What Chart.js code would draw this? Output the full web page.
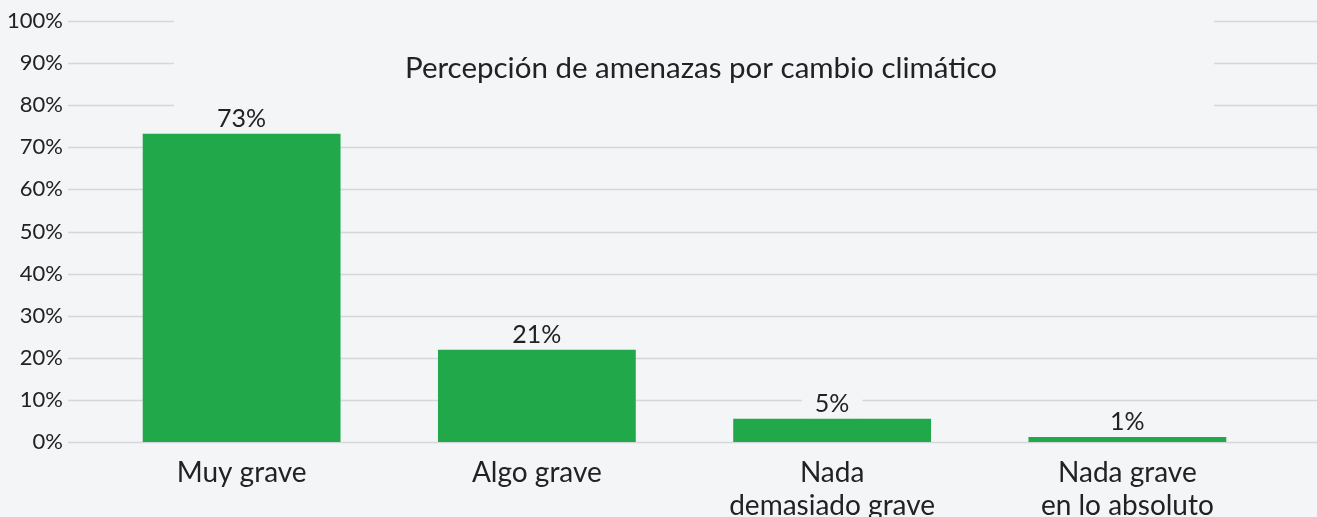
<!DOCTYPE html>
<html lang="es">
<head>
  <meta charset="UTF-8">
  <title>Percepción de amenazas por cambio climático</title>
  <script src="https://cdn.jsdelivr.net/npm/chart.js"></script>
  <style>
    html, body { margin: 0; padding: 0; background: #f3f5f7; }
  </style>
</head>
<body>
<canvas id="chart" width="1317" height="517"></canvas>

<script>
  // datos
  const categories = ['Muy grave', 'Algo grave', ['Nada', 'demasiado grave'], ['Nada grave', 'en lo absoluto']];
  const barValues = [73.2, 21.9, 5.5, 1.2];
  const valueLabels = ['73%', '21%', '5%', '1%'];
  const yTicks = [0, 10, 20, 30, 40, 50, 60, 70, 80, 90, 100];
  const chartTitle = 'Percepción de amenazas por cambio climático';

  const bg = '#f3f5f7';
  const green = '#20a84a';
  const gridColor = '#d6d7da';
  const textColor = '#222222';
  const fontFamily = 'Lato, "Open Sans", sans-serif';

  // líneas de cuadrícula a todo el ancho + caja del título
  const backdrop = {
    id: 'backdrop',
    beforeDatasetsDraw(chart) {
      const ctx = chart.ctx;
      const y = chart.scales.y;
      ctx.save();
      ctx.strokeStyle = gridColor;
      ctx.lineWidth = 1.5;
      yTicks.forEach(v => {
        const py = Math.round(y.getPixelForValue(v)) + 0.5;
        ctx.beginPath();
        ctx.moveTo(68, py);
        ctx.lineTo(chart.width, py);
        ctx.stroke();
      });
      ctx.fillStyle = bg;
      ctx.fillRect(174, 0, 1040, 120);
      ctx.fillStyle = textColor;
      ctx.font = '29.5px ' + fontFamily;
      ctx.textAlign = 'center';
      ctx.textBaseline = 'middle';
      ctx.fillText(chartTitle, 701, 68);
      ctx.restore();
    }
  };

  // etiquetas de valor sobre cada barra
  const valueTags = {
    id: 'valueTags',
    afterDatasetsDraw(chart) {
      const ctx = chart.ctx;
      const meta = chart.getDatasetMeta(0);
      ctx.save();
      ctx.font = '25px ' + fontFamily;
      ctx.textAlign = 'center';
      ctx.textBaseline = 'middle';
      meta.data.forEach((bar, i) => {
        const txt = valueLabels[i];
        const w = ctx.measureText(txt).width + 26;
        const cy = bar.y - 15;
        ctx.fillStyle = bg;
        ctx.fillRect(bar.x - w / 2, cy - 14, w, 28);
        ctx.fillStyle = textColor;
        ctx.fillText(txt, bar.x, cy);
      });
      ctx.restore();
    }
  };

  new Chart(document.getElementById('chart'), {
    type: 'bar',
    data: {
      labels: categories,
      datasets: [{
        data: barValues,
        backgroundColor: green,
        barPercentage: 0.67,
        categoryPercentage: 1
      }]
    },
    options: {
      responsive: false,
      animation: false,
      layout: { autoPadding: false, padding: { top: 21, right: 42, left: 4, bottom: 0 } },
      plugins: {
        legend: { display: false },
        tooltip: { enabled: false }
      },
      scales: {
        x: {
          grid: { display: false },
          border: { display: false },
          ticks: {
            color: textColor,
            font: { family: fontFamily, size: 28, lineHeight: 1.18 },
            padding: 6,
            maxRotation: 0,
            autoSkip: false
          },
          afterFit(s) {
            s.height = 75;
            s.paddingTop = 0;
            s.paddingBottom = 0;
          }
        },
        y: {
          min: 0,
          max: 100,
          grid: { display: false },
          border: { display: false },
          afterBuildTicks(s) { s.ticks = yTicks.map(v => ({ value: v })); },
          ticks: {
            color: textColor,
            font: { family: fontFamily, size: 22 },
            padding: 23,
            callback: v => v + '%'
          },
          afterFit(s) {
            s.width = 90;
            s.paddingTop = 0;
            s.paddingBottom = 0;
          }
        }
      }
    },
    plugins: [backdrop, valueTags]
  });
</script>
</body>
</html>
